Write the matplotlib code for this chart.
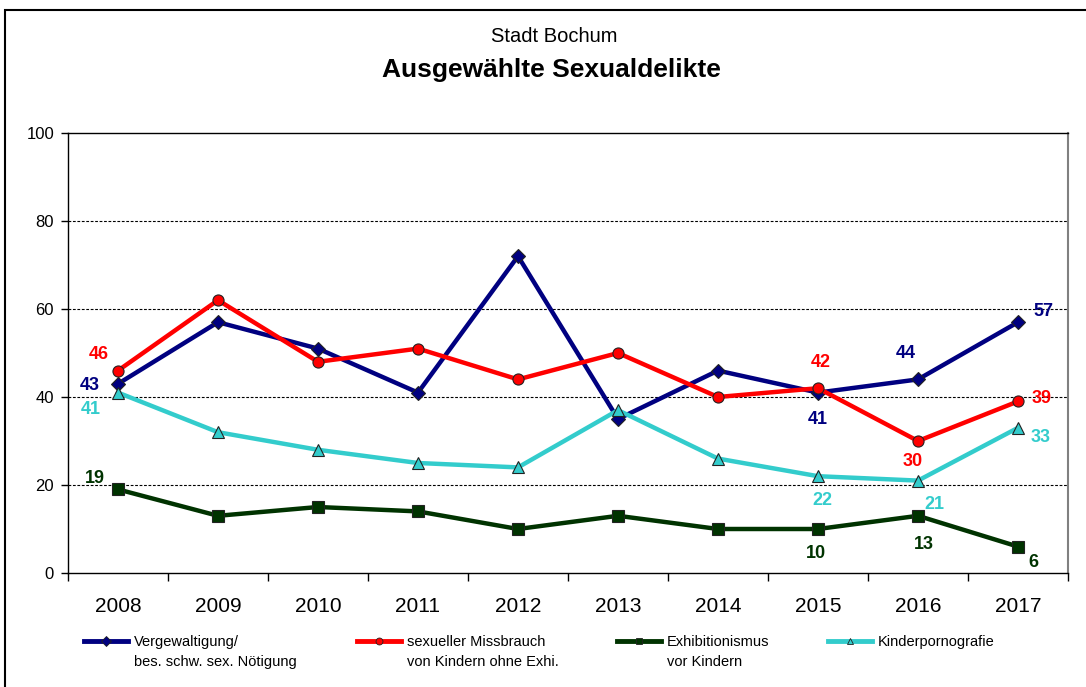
import matplotlib
matplotlib.use("Agg")
import matplotlib.pyplot as plt
from matplotlib.lines import Line2D
from matplotlib.patches import Rectangle

plt.rcParams["font.family"] = ["Liberation Sans", "DejaVu Sans"]

YEARS = ["2008", "2009", "2010", "2011", "2012", "2013", "2014", "2015", "2016", "2017"]
VERGEWALTIGUNG = [43, 57, 51, 41, 72, 35, 46, 41, 44, 57]
MISSBRAUCH = [46, 62, 48, 51, 44, 50, 40, 42, 30, 39]
EXHIBITIONISMUS = [19, 13, 15, 14, 10, 13, 10, 10, 13, 6]
KINDERPORNO = [41, 32, 28, 25, 24, 37, 26, 22, 21, 33]
Y_TICKS = [0, 20, 40, 60, 80, 100]

SERIES = [
    (("Vergewaltigung/", "bes. schw. sex. Nötigung"), VERGEWALTIGUNG, "#000080", "D"),
    (("sexueller Missbrauch", "von Kindern ohne Exhi."), MISSBRAUCH, "#ff0000", "o"),
    (("Exhibitionismus", "vor Kindern"), EXHIBITIONISMUS, "#003300", "s"),
    (("Kinderpornografie", ""), KINDERPORNO, "#33cccc", "^"),
]

# which points carry a value label, with pixel offset from the point
LABELS = {
    0: [(0, (-28, -2)), (7, (0, -27)), (8, (-12, 26)), (9, (25, 11))],
    1: [(0, (-19, 16)), (7, (3, 26)), (8, (-5, -20)), (9, (24, 3))],
    2: [(0, (-23, 11)), (7, (-2, -25)), (8, (6, -29)), (9, (15, -16))],
    3: [(0, (-27, -17)), (7, (4, -24)), (8, (16, -24)), (9, (23, -10))],
}
LEGEND_X = [84, 357, 617, 828]

fig = plt.figure(figsize=(10.86, 6.87), dpi=100)
# outer frame (only top and left edges are inside the image)
fig.patches.append(Rectangle((5 / 1086, -0.1), 1.2, 1.1 - 10 / 687,
                             transform=fig.transFigure, fill=False,
                             edgecolor="black", linewidth=1.5))

ax = fig.add_axes([68 / 1086, 114 / 687, 1000 / 1086, 440 / 687])
x = list(range(len(YEARS)))

legends = []
for i, (names, vals, color, marker) in enumerate(SERIES):
    ax.plot(x, vals, color=color, linewidth=3.2, marker=marker,
            markersize=8 if marker != "D" else 7, markerfacecolor=color,
            markeredgecolor="#222222", markeredgewidth=0.8, zorder=3,
            solid_joinstyle="miter")
    for idx, (dx, dy) in LABELS[i]:
        ax.annotate(str(vals[idx]), (x[idx], vals[idx]), xytext=(dx, dy),
                    textcoords="offset pixels", ha="center", va="center",
                    color=color, fontsize=13, fontweight="bold", zorder=4)
    handle = Line2D([], [], color=color, linewidth=3.5, marker=marker,
                    markersize=5, markerfacecolor=color,
                    markeredgecolor="#222222", markeredgewidth=0.6)
    leg = fig.legend([handle], [names[0]], loc="center left",
                     bbox_to_anchor=(LEGEND_X[i] / 1086, 1 - 642 / 687),
                     frameon=False, fontsize=10.5, handlelength=3.0,
                     handletextpad=0.4, borderpad=0, borderaxespad=0)
    legends.append((leg, names[1]))

ax.set_xlim(-0.5, len(YEARS) - 0.5)
ax.set_ylim(0, 100)
ax.set_yticks(Y_TICKS)
ax.set_yticklabels([str(v) for v in Y_TICKS], fontsize=12)
ax.set_xticks(x)
ax.set_xticklabels(YEARS, fontsize=15)
ax.set_xticks([v - 0.5 for v in range(len(YEARS) + 1)], minor=True)
ax.tick_params(axis="x", which="major", length=0, pad=17)
ax.tick_params(axis="x", which="minor", length=6, direction="out", width=1)
ax.tick_params(axis="y", length=5, direction="out", width=1, pad=5)

for yv in Y_TICKS[1:-1]:
    ax.axhline(yv, color="black", linewidth=0.8, linestyle=(0, (2.5, 1.5)), zorder=1)

for side in ["left", "bottom", "top"]:
    ax.spines[side].set_color("black")
    ax.spines[side].set_linewidth(1.0)
ax.spines["right"].set_color("#808080")
ax.spines["right"].set_linewidth(1.5)

fig.text(0.51, 1 - 37 / 687, "Stadt Bochum", ha="center", va="center", fontsize=14.5)
fig.text(0.508, 1 - 70 / 687, "Ausgewählte Sexualdelikte", ha="center", va="center",
         fontsize=19, fontweight="bold")

# second legend line sits under the first, aligned with its text
fig.canvas.draw()
inv = fig.transFigure.inverted()
for leg, second in legends:
    if not second:
        continue
    bb = leg.get_texts()[0].get_window_extent()
    x0, _ = inv.transform((bb.x0, bb.y0))
    fig.text(x0, 1 - 662 / 687, second, ha="left", va="center", fontsize=10.5)

fig.savefig("out.png", dpi=100, facecolor="white")
